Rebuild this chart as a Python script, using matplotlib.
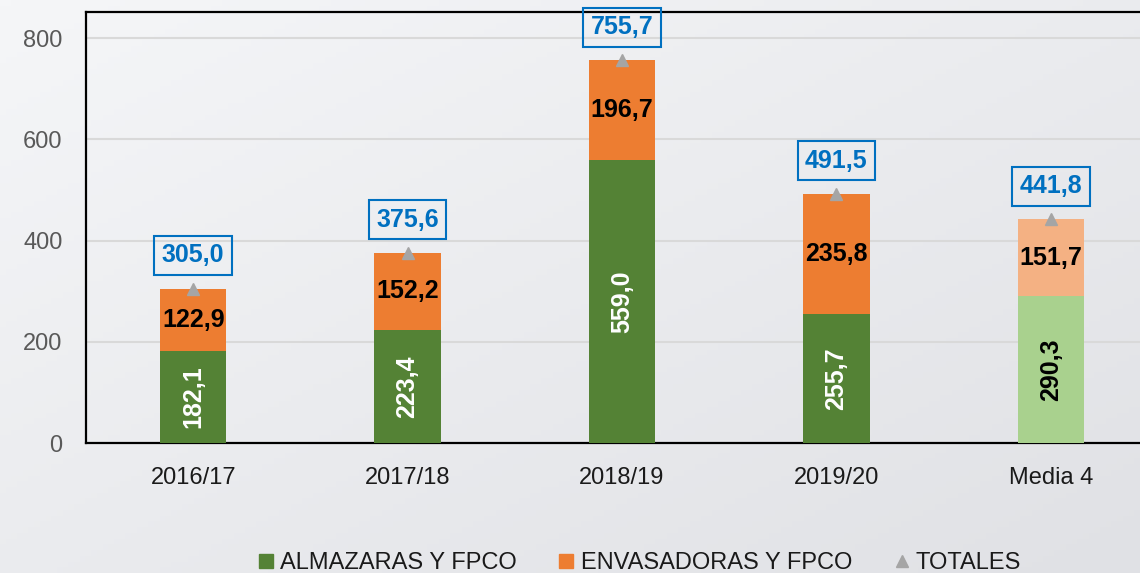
import numpy as np
import matplotlib
matplotlib.use("Agg")
import matplotlib.pyplot as plt
from matplotlib.lines import Line2D

plt.rcParams['font.family'] = ['Liberation Sans', 'DejaVu Sans']

# data
campaigns = ['2016/17', '2017/18', '2018/19', '2019/20', 'Media 4']
almazaras = [182.1, 223.4, 559.0, 255.7, 290.3]
envasadoras = [122.9, 152.2, 196.7, 235.8, 151.7]
totales = [305.0, 375.6, 755.7, 491.5, 441.8]

green_cols = ['#548235'] * 4 + ['#a9d18e']
orange_cols = ['#ed7d31'] * 4 + ['#f4b183']
green_txt = ['white'] * 4 + ['black']

def fmt(v):
    return f'{v:.1f}'.replace('.', ',')

fig = plt.figure(figsize=(11.4, 5.73), dpi=100)

# soft gradient background
bg = fig.add_axes([0, 0, 1, 1], zorder=-10)
gx, gy = np.meshgrid(np.linspace(0, 1, 200), np.linspace(0, 1, 100))
grad = (gx * 0.5 + gy * 0.5)
bg.imshow(grad, cmap=matplotlib.colors.LinearSegmentedColormap.from_list(
    'bg', ['#f5f6f8', '#e0e1e5']), aspect='auto', extent=[0, 1, 0, 1])
bg.axis('off')

ax = fig.add_axes([86 / 1140, 1 - 443 / 573, 1072 / 1140, 431 / 573])
ax.set_facecolor('none')
x = np.arange(len(campaigns))
w = 0.31

ax.bar(x, almazaras, w, color=green_cols, zorder=3)
ax.bar(x, envasadoras, w, bottom=almazaras, color=orange_cols, zorder=3)
ax.plot(x, totales, linestyle='none', marker='^', color='#a5a5a5',
        markersize=9, zorder=4)

for i in range(len(x)):
    ax.text(x[i], almazaras[i] / 2, fmt(almazaras[i]), rotation=90,
            ha='center', va='center', color=green_txt[i], fontsize=18,
            fontweight='bold', zorder=5)
    ax.text(x[i], almazaras[i] + envasadoras[i] / 2, fmt(envasadoras[i]),
            ha='center', va='center', color='black', fontsize=18,
            fontweight='bold', zorder=5)
    ax.annotate(fmt(totales[i]), (x[i], totales[i]), xytext=(0, 24),
                textcoords='offset points', ha='center', va='center',
                color='#0070c0', fontsize=18, fontweight='bold', zorder=6,
                bbox=dict(boxstyle='square,pad=0.3', fc='none',
                          ec='#0070c0', lw=1.5))

ax.set_xlim(-0.5, 4.5)
ax.set_ylim(0, 851.4)
ax.set_yticks([0, 200, 400, 600, 800])
ax.set_xticks(x)
ax.set_xticklabels(campaigns)
ax.yaxis.grid(True, color='#d9d9d9', linewidth=1.5, zorder=0)
ax.set_axisbelow(True)
ax.tick_params(axis='y', length=0, pad=17, labelsize=17, labelcolor='#595959')
ax.tick_params(axis='x', length=0, pad=17, labelsize=17, labelcolor='#1a1a1a')
for s in ['left', 'top', 'bottom']:
    ax.spines[s].set_color('black')
    ax.spines[s].set_linewidth(1.6)
ax.spines['right'].set_visible(False)

handles = [
    Line2D([], [], linestyle='none', marker='s', markersize=9.5, color='#548235'),
    Line2D([], [], linestyle='none', marker='s', markersize=9.5, color='#ed7d31'),
    Line2D([], [], linestyle='none', marker='^', markersize=8, color='#a5a5a5'),
]
fig.legend(handles, ['ALMAZARAS Y FPCO', 'ENVASADORAS Y FPCO', 'TOTALES'],
           loc='center', bbox_to_anchor=(640 / 1140, 1 - 563 / 573), ncol=3,
           frameon=False, fontsize=17, handlelength=0.6, handletextpad=0.3,
           columnspacing=1.8, labelcolor='#1a1a1a')

fig.savefig('out.png', dpi=100)
